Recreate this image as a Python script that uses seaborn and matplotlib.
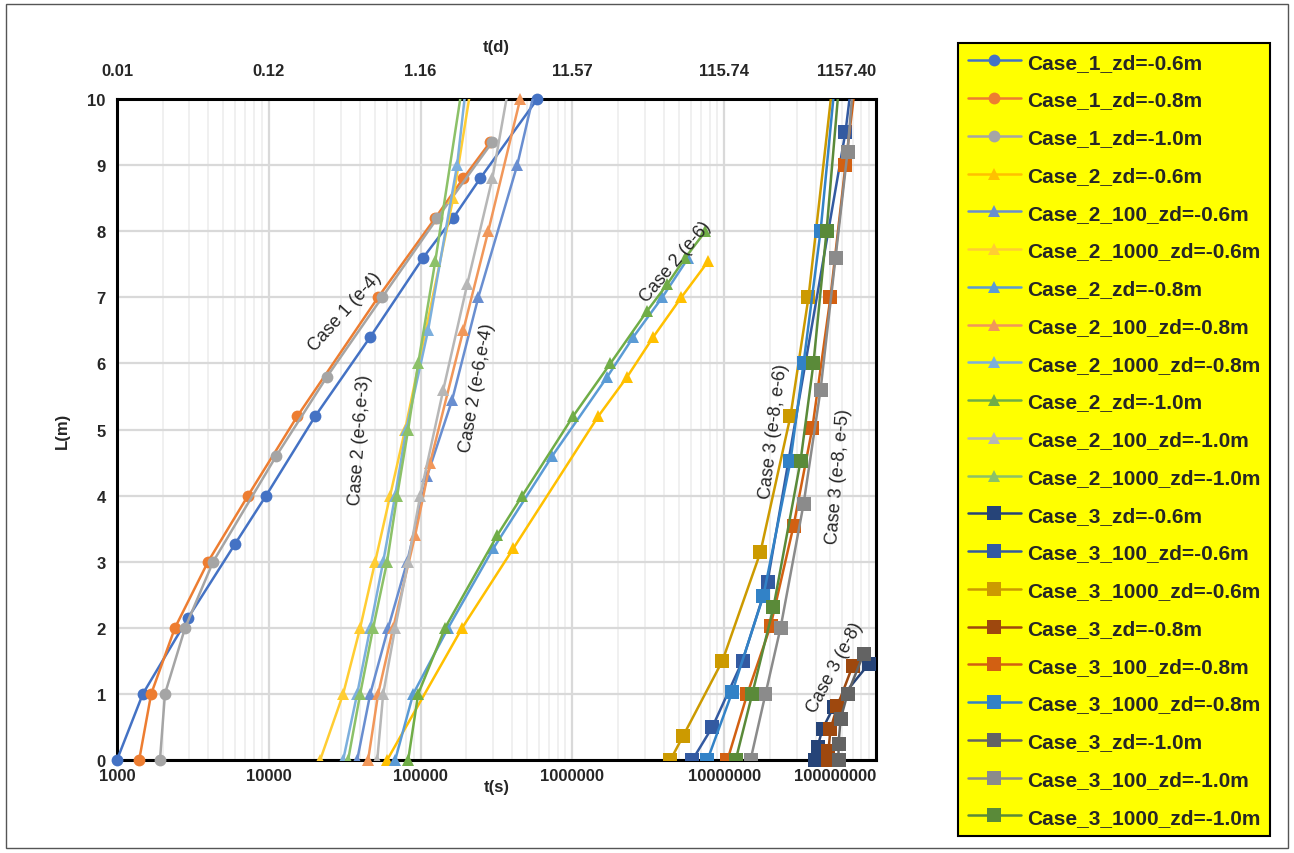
import seaborn as sns
import matplotlib.pyplot as plt
from matplotlib.patches import Rectangle
from matplotlib.ticker import LogLocator, NullLocator, FixedLocator

sns.set_style("white")
plt.rcParams['font.family'] = ['Liberation Sans', 'DejaVu Sans']

# time t(s) vs depth L(m)
# Case 1
c1_06_t = [1000, 1480, 2940, 6000, 9600, 20200, 46600, 104000, 164000, 247000, 587000]
c1_06_L = [0, 1, 2.15, 3.27, 4, 5.2, 6.4, 7.6, 8.2, 8.8, 10]
c1_08_t = [1400, 1680, 2410, 3980, 7300, 15400, 52500, 125000, 191000, 288000]
c1_08_L = [0, 1, 2, 3, 4, 5.2, 7, 8.2, 8.8, 9.35]
c1_10_t = [1920, 2070, 2810, 4300, 11200, 24200, 55800, 129000, 297000]
c1_10_L = [0, 1, 2, 3, 4.6, 5.8, 7, 8.2, 9.35]

# Case 2
c2_06_t = [60200, 188000, 408000, 1480000, 2300000, 3410000, 5220000, 7870000]
c2_06_L = [0, 2, 3.2, 5.2, 5.8, 6.4, 7.0, 7.55]
c2_100_06_t = [38200, 46600, 61200, 81600, 110500, 161500, 240000, 433000, 614000]
c2_100_06_L = [0, 1, 2, 3, 4.3, 5.45, 7, 9, 10.5]
c2_1000_06_t = [21800, 30900, 40000, 50200, 63000, 79100, 164000, 226000]
c2_1000_06_L = [0, 1, 2, 3, 4, 5, 8.5, 10.5]
c2_08_t = [68000, 89400, 152000, 301000, 737000, 1700000, 2520000, 3910000, 5810000]
c2_08_L = [0, 1, 2, 3.2, 4.6, 5.8, 6.4, 7.0, 7.6]
c2_100_08_t = [45100, 52500, 66000, 92100, 115700, 191000, 279000, 453000]
c2_100_08_L = [0, 1, 2, 3.4, 4.5, 6.5, 8, 10]
c2_1000_08_t = [30900, 38200, 46600, 56700, 68000, 80400, 112000, 174000, 206000]
c2_1000_08_L = [0, 1, 2, 3, 4, 5, 6.5, 9, 10.5]
c2_10_t = [82800, 96400, 145000, 320000, 468000, 1010000, 1780000, 3120000, 4220000, 5550000, 7520000]
c2_10_L = [0, 1, 2, 3.4, 4, 5.2, 6, 6.8, 7.2, 7.6, 8]
c2_100_10_t = [51800, 56700, 68000, 82800, 99400, 141000, 203000, 297000, 402000]
c2_100_10_L = [0, 1, 2, 3, 4, 5.6, 7.2, 8.8, 10.5]
c2_1000_10_t = [33300, 40000, 48700, 60200, 70100, 82800, 96400, 125000, 197000]
c2_1000_10_L = [0, 1, 2, 3, 4, 5, 6, 7.55, 10.5]

# Case 3
c3_06_t = [3.99e7, 4.12e7, 4.44e7, 5.25e7, 8.93e7]
c3_06_L = [0, 0.2, 0.47, 0.8, 1.45]
c3_100_06_t = [6.17e6, 8.36e6, 1.32e7, 1.93e7, 6.29e7, 7.11e7]
c3_100_06_L = [0, 0.5, 1.5, 2.7, 9.5, 10.5]
c3_1000_06_t = [4.42e6, 5.38e6, 9.73e6, 1.73e7, 2.73e7, 3.59e7, 5.33e7]
c3_1000_06_L = [0, 0.37, 1.5, 3.14, 5.2, 7.0, 10.5]
c3_08_t = [4.79e7, 4.86e7, 5.01e7, 5.57e7, 7.0e7]
c3_08_L = [0, 0.14, 0.47, 0.82, 1.42]
c3_100_08_t = [1.05e7, 1.42e7, 2.02e7, 2.86e7, 3.81e7, 5.01e7, 6.29e7, 7.55e7]
c3_100_08_L = [0, 1, 2.03, 3.54, 5.03, 7.0, 9.0, 10.5]
c3_1000_08_t = [7.75e6, 1.13e7, 1.81e7, 2.73e7, 3.33e7, 4.31e7, 5.49e7]
c3_1000_08_L = [0, 1.03, 2.48, 4.52, 6.0, 8.0, 10.5]
c3_10_t = [5.66e7, 5.66e7, 5.84e7, 6.49e7, 8.27e7]
c3_10_L = [0, 0.24, 0.62, 1.0, 1.6]
c3_100_10_t = [1.49e7, 1.87e7, 2.35e7, 3.33e7, 4.31e7, 5.41e7, 6.49e7, 7.21e7]
c3_100_10_L = [0, 1, 2, 3.87, 5.6, 7.6, 9.2, 10.5]
c3_1000_10_t = [1.19e7, 1.53e7, 2.11e7, 3.18e7, 3.87e7, 4.72e7, 5.84e7]
c3_1000_10_L = [0, 1, 2.31, 4.52, 6.0, 8.0, 10.5]

x_ticks = [1e3, 1e4, 1e5, 1e6, 1e7, 1e8]
x_tick_labels = ['1000', '10000', '100000', '1000000', '10000000', '100000000']
top_tick_labels = ['0.01', '0.12', '1.16', '11.57', '115.74', '1157.40']

series = [
    ('Case_1_zd=-0.6m', c1_06_t, c1_06_L, '#4472C4', 'o'),
    ('Case_1_zd=-0.8m', c1_08_t, c1_08_L, '#ED7D31', 'o'),
    ('Case_1_zd=-1.0m', c1_10_t, c1_10_L, '#A5A5A5', 'o'),
    ('Case_2_zd=-0.6m', c2_06_t, c2_06_L, '#FFC000', '^'),
    ('Case_2_100_zd=-0.6m', c2_100_06_t, c2_100_06_L, '#698ED0', '^'),
    ('Case_2_1000_zd=-0.6m', c2_1000_06_t, c2_1000_06_L, '#FFCD33', '^'),
    ('Case_2_zd=-0.8m', c2_08_t, c2_08_L, '#5B9BD5', '^'),
    ('Case_2_100_zd=-0.8m', c2_100_08_t, c2_100_08_L, '#F1975A', '^'),
    ('Case_2_1000_zd=-0.8m', c2_1000_08_t, c2_1000_08_L, '#7CAFDD', '^'),
    ('Case_2_zd=-1.0m', c2_10_t, c2_10_L, '#70AD47', '^'),
    ('Case_2_100_zd=-1.0m', c2_100_10_t, c2_100_10_L, '#B7B7B7', '^'),
    ('Case_2_1000_zd=-1.0m', c2_1000_10_t, c2_1000_10_L, '#8CC168', '^'),
    ('Case_3_zd=-0.6m', c3_06_t, c3_06_L, '#264478', 's'),
    ('Case_3_100_zd=-0.6m', c3_100_06_t, c3_100_06_L, '#335AA1', 's'),
    ('Case_3_1000_zd=-0.6m', c3_1000_06_t, c3_1000_06_L, '#CC9A00', 's'),
    ('Case_3_zd=-0.8m', c3_08_t, c3_08_L, '#9E480E', 's'),
    ('Case_3_100_zd=-0.8m', c3_100_08_t, c3_100_08_L, '#D26012', 's'),
    ('Case_3_1000_zd=-0.8m', c3_1000_08_t, c3_1000_08_L, '#3282C7', 's'),
    ('Case_3_zd=-1.0m', c3_10_t, c3_10_L, '#636363', 's'),
    ('Case_3_100_zd=-1.0m', c3_100_10_t, c3_100_10_L, '#8B8B8B', 's'),
    ('Case_3_1000_zd=-1.0m', c3_1000_10_t, c3_1000_10_L, '#5A8A39', 's'),
]

marker_size = {'o': 8.5, '^': 9, 's': 9.5}

fig = plt.figure(figsize=(12.94, 8.54), dpi=100)
ax = fig.add_axes([0.0904, 0.1089, 0.5866, 0.7740])

for label, t, L, color, mk in series:
    sns.lineplot(x=t, y=L, ax=ax, color=color, marker=mk, markersize=marker_size[mk],
                 markeredgewidth=0, linewidth=1.8, sort=False, estimator=None,
                 label=label, clip_on=max(L) > 10, zorder=3)

ax.set_xscale('log')
ax.set_xlim(1e3, 1e8)
ax.set_ylim(0, 10)
ax.set_xticks(x_ticks)
ax.set_xticklabels(x_tick_labels)
ax.xaxis.set_minor_locator(LogLocator(base=10, subs=range(2, 10), numticks=20))
ax.set_yticks(range(0, 11))

ax.grid(which='major', axis='both', color='#D9D9D9', linewidth=1.6, zorder=0)
ax.grid(which='minor', axis='x', color='#EEEEEE', linewidth=1.2, zorder=0)
ax.set_axisbelow(True)

for sp in ax.spines.values():
    sp.set_linewidth(2.2)
    sp.set_color('black')

ax.tick_params(axis='both', which='both', length=0)
ax.tick_params(axis='x', pad=6)
ax.tick_params(axis='y', pad=8)
for lab in ax.get_xticklabels() + ax.get_yticklabels():
    lab.set_fontweight('bold')
    lab.set_fontsize(12)
# last label kept inside the plot width, like the original
ax.get_xticklabels()[-1].set_horizontalalignment('right')

ax.set_xlabel('t(s)', fontsize=12, fontweight='bold', labelpad=-3)
ax.set_ylabel('L(m)', fontsize=12, fontweight='bold', labelpad=13)

# top axis: days
sec = ax.secondary_xaxis('top', functions=(lambda s: s / 86400.0, lambda d: d * 86400.0))
sec.xaxis.set_major_locator(FixedLocator([v / 86400.0 for v in x_ticks]))
sec.xaxis.set_minor_locator(NullLocator())
sec.set_xticklabels(top_tick_labels, fontsize=12, fontweight='bold')
sec.get_xticklabels()[-1].set_horizontalalignment('right')
sec.tick_params(length=0, pad=15)
sec.spines['top'].set_visible(False)
sec.set_xlabel('t(d)', fontsize=12, fontweight='bold', labelpad=9)

# curve group annotations
notes = [
    ('Case 1 (e-4)', 3.18e4, 6.79, 48),
    ('Case 2 (e-6,e-3)', 4.0e4, 4.86, 86),
    ('Case 2 (e-6,e-4)', 2.36e5, 5.64, 80),
    ('Case 2 (e-6)', 4.77e6, 7.55, 50),
    ('Case 3 (e-8, e-6)', 2.11e7, 4.98, 83),
    ('Case 3 (e-8, e-5)', 5.66e7, 4.3, 85),
    ('Case 3 (e-8)', 5.33e7, 1.41, 62),
]
for txt, x, y, rot in notes:
    ax.text(x, y, txt, rotation=rot, fontsize=13, ha='center', va='center',
            rotation_mode='anchor', zorder=4)

leg = ax.legend(loc='upper left', bbox_to_anchor=(0.7405, 0.948),
                bbox_transform=fig.transFigure, frameon=True, fancybox=False,
                facecolor='#FFFF00', edgecolor='black', framealpha=1,
                prop={'family': 'Liberation Sans', 'weight': 'bold', 'size': 15},
                labelspacing=0.9, handlelength=2.55, handletextpad=0.3,
                borderpad=0.45, borderaxespad=0)
leg.get_frame().set_linewidth(1.5)

fig.patches.append(Rectangle((0.005, 0.006), 0.99, 0.988, transform=fig.transFigure,
                             fill=False, edgecolor='#555555', linewidth=1))

fig.savefig('out.png', dpi=100)
